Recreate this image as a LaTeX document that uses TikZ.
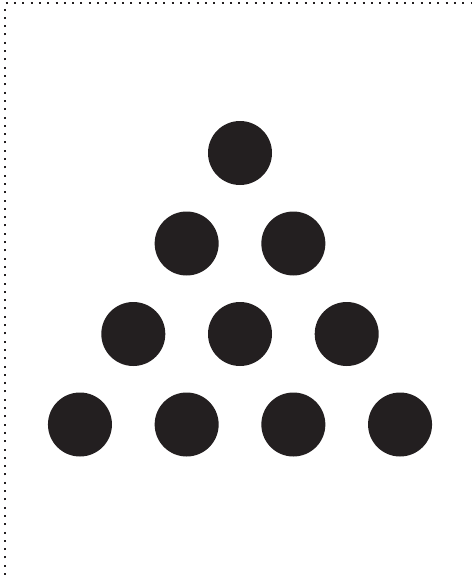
\documentclass[tikz,border=0pt]{standalone}
\definecolor{dotblack}{RGB}{35,31,32}

\begin{document}
\begin{tikzpicture}[
    x=1pt, y=-1pt,
    frame/.style={dotblack, line width=2pt, dash pattern=on 2pt off 6.3pt},
    ball/.style={circle, fill=dotblack, inner sep=0pt, minimum size=64pt}
]
\useasboundingbox (0,0) rectangle (472,575);

% dotted frame
\draw[frame] (4.5,575) -- (4.5,3.5) -- (472,3.5);

% triangle of balls
\foreach \r in {1,...,4} {
    \foreach \c in {1,...,\r} {
        \node[ball] (b\r\c) at ({240 + 106.7*(\c - (\r+1)/2)}, {153 + 90.5*(\r-1)}) {};
    }
}

\end{tikzpicture}
\end{document}
